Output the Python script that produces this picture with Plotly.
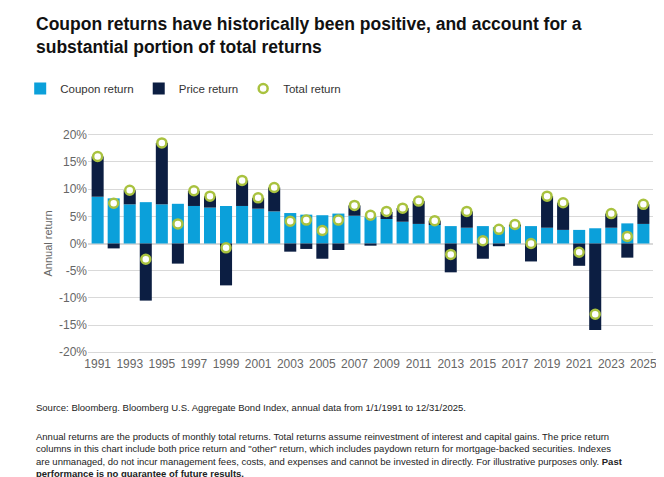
import plotly.graph_objects as go

years = list(range(1991, 2026))
coupon = [8.6, 8.3, 7.2, 7.6, 7.2, 7.3, 6.9, 6.6, 6.9, 6.9, 6.4, 5.9, 5.6, 5.3, 5.2, 5.5,
          5.1, 4.9, 4.5, 4.0, 3.6, 3.4, 3.2, 2.9, 3.2, 3.0, 3.1, 3.2, 2.9, 2.5, 2.5, 2.8,
          2.9, 3.7, 3.6]
price = [7.4, -0.9, 2.6, -10.5, 11.3, -3.7, 2.8, 2.1, -7.7, 4.7, 2.0, 4.4, -1.5, -1.0, -2.8, -1.2,
         1.9, -0.4, 1.3, 2.5, 4.2, 0.8, -5.3, 3.0, -2.8, -0.5, 0.4, -3.3, 5.8, 5.0, -4.1, -15.9,
         2.6, -2.6, 3.6]
total = [16.0, 7.4, 9.8, -2.9, 18.5, 3.6, 9.7, 8.7, -0.8, 11.6, 8.4, 10.3, 4.1, 4.3, 2.4, 4.3,
         7.0, 5.2, 5.9, 6.5, 7.8, 4.2, -2.0, 5.9, 0.5, 2.6, 3.5, 0.0, 8.7, 7.5, -1.6, -13.0,
         5.5, 1.3, 7.2]
tick_years = list(range(1991, 2026, 2))

font = "Liberation Sans, Arial, sans-serif"

fig = go.Figure()
fig.add_trace(go.Bar(x=years, y=coupon, name="Coupon return", marker=dict(color="#0BA0DA", line=dict(width=0))))
fig.add_trace(go.Bar(x=years, y=price, name="Price return", marker=dict(color="#0C1E42", line=dict(width=0))))
fig.add_trace(go.Scatter(x=years, y=total, name="Total return", mode="markers",
                         marker=dict(color="white", size=9, line=dict(color="#A9C23F", width=2.5))))

fig.update_layout(
    width=664, height=477, barmode="relative", bargap=0.25,
    plot_bgcolor="white", paper_bgcolor="white",
    font=dict(family=font, size=12, color="#555"),
    margin=dict(l=72, r=19, t=124, b=130),
    legend=dict(orientation="h", x=-0.12, y=1.13, xanchor="left", yanchor="bottom",
                font=dict(size=11.5, color="#333"), itemwidth=30, tracegroupgap=0,
                traceorder="normal"),
    xaxis=dict(tickmode="array", tickvals=tick_years, ticktext=[str(y) for y in tick_years],
               range=[1990.4, 2025.6], showgrid=False, tickfont=dict(size=12, color="#666")),
    yaxis=dict(range=[-20.5, 20.5], tickvals=list(range(-20, 21, 5)),
               ticktext=[f"{v}%" for v in range(-20, 21, 5)], gridcolor="#D9D9D9",
               zeroline=True, zerolinecolor="#D9D9D9", tickfont=dict(size=12, color="#666"),
               title=dict(text="Annual return", font=dict(size=11, color="#666"), standoff=4)),
)

fig.add_annotation(xref="paper", yref="paper", x=-0.095, y=1.54, xanchor="left", yanchor="top",
                   align="left", showarrow=False,
                   text="<b>Coupon returns have historically been positive, and account for a<br>substantial portion of total returns</b>",
                   font=dict(size=17.5, color="#111", family=font))
fig.add_annotation(xref="paper", yref="paper", x=-0.095, y=-0.2, xanchor="left", yanchor="top",
                   align="left", showarrow=False,
                   text="Source: Bloomberg. Bloomberg U.S. Aggregate Bond Index, annual data from 1/1/1991 to 12/31/2025.",
                   font=dict(size=9.5, color="#222", family=font))
fig.add_annotation(xref="paper", yref="paper", x=-0.095, y=-0.33, xanchor="left", yanchor="top",
                   align="left", showarrow=False,
                   text=("Annual returns are the products of monthly total returns. Total returns assume reinvestment of interest and capital gains. The price return<br>"
                         "columns in this chart include both price return and \"other\" return, which includes paydown return for mortgage-backed securities. Indexes<br>"
                         "are unmanaged, do not incur management fees, costs, and expenses and cannot be invested in directly. For illustrative purposes only. <b>Past<br>"
                         "performance is no guarantee of future results.</b>"),
                   font=dict(size=9.5, color="#222", family=font))

fig.write_html("out.html")
